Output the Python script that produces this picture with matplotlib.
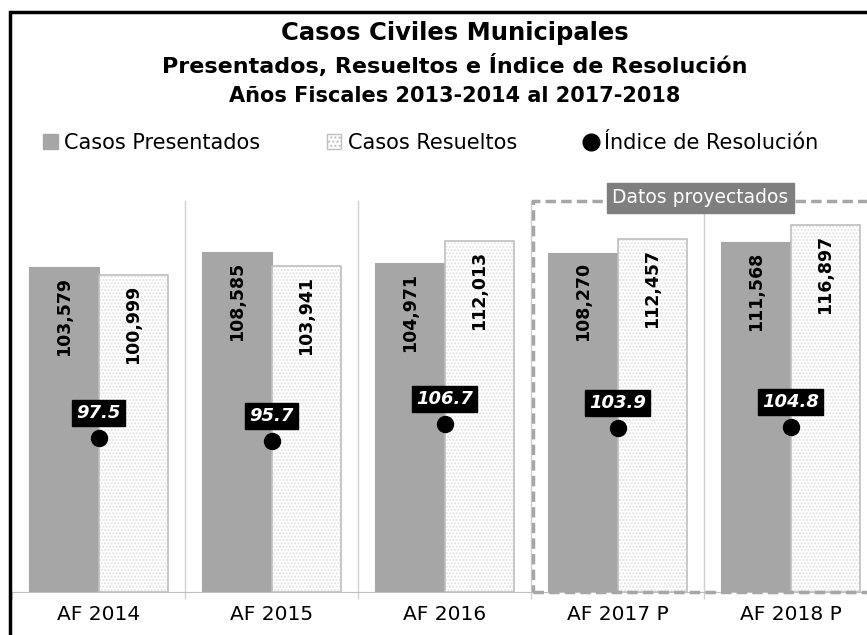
import numpy as np
import matplotlib
matplotlib.use('Agg')
import matplotlib.pyplot as plt
from matplotlib.patches import Patch, Rectangle
from matplotlib.lines import Line2D

plt.rcParams['font.family'] = ['DejaVu Sans']

categories = ['AF 2014', 'AF 2015', 'AF 2016', 'AF 2017 P', 'AF 2018 P']
presentados = [103579, 108585, 104971, 108270, 111568]
resueltos = [100999, 103941, 112013, 112457, 116897]
indice = [97.5, 95.7, 106.7, 103.9, 104.8]

GREY = '#a6a6a6'
W, H = 867, 635

fig = plt.figure(figsize=(W / 100, H / 100), dpi=100)
# plot area in pixels: x 12..877, y 201..592
ax = fig.add_axes([12 / W, 1 - 592 / H, 865 / W, 391 / H])
ax2 = ax.twinx()

x = np.arange(len(categories))
bw = 0.4

ax.bar(x - bw / 2, presentados, bw, color=GREY, edgecolor=GREY, linewidth=0.8, zorder=2)
ax.bar(x + bw / 2, resueltos, bw, color='white', edgecolor='#e3e3e3', hatch='.....',
       linewidth=0, zorder=2)
ax.bar(x + bw / 2, resueltos, bw, color='none', edgecolor='#bfbfbf', linewidth=1.2, zorder=3)

for xi, v in zip(x - bw / 2, presentados):
    ax.annotate(f'{v:,}', (xi, v), xytext=(0, -7), textcoords='offset points',
                rotation=90, ha='center', va='top', fontsize=12.5, fontweight='bold', zorder=5)
for xi, v in zip(x + bw / 2, resueltos):
    ax.annotate(f'{v:,}', (xi, v), xytext=(0, -7), textcoords='offset points',
                rotation=90, ha='center', va='top', fontsize=12.5, fontweight='bold', zorder=5)

ax.set_xlim(-0.5, len(categories) - 0.5)
ax.set_ylim(0, 124700)
ax2.set_ylim(0, 248)

ax2.plot(x, indice, 'o', color='black', markersize=11.5, linestyle='none', zorder=6)
for xi, v in zip(x, indice):
    ax2.annotate(f'{v:.1f}', (xi, v), xytext=(0, 18), textcoords='offset points',
                 ha='center', va='center', fontsize=13, fontweight='bold', style='italic',
                 color='white', zorder=7,
                 bbox=dict(boxstyle='square,pad=0.22', fc='black', ec='black'))

# category separators
for b in np.arange(0.5, len(categories) - 0.5, 1):
    ax.axvline(b, color='#d0d0d0', linewidth=1, zorder=1)
ax.set_xticks(np.arange(-0.5, len(categories), 1), minor=True)
ax.tick_params(axis='x', which='minor', length=5, color='#d0d0d0', width=1)
ax.tick_params(axis='x', which='major', length=0, pad=9, labelsize=14.5)
ax.set_xticks(x)
ax.set_xticklabels(categories)

for a in (ax, ax2):
    a.set_yticks([])
    for s in ('top', 'right', 'left'):
        a.spines[s].set_visible(False)
    a.patch.set_visible(False)
ax.spines['bottom'].set_color('#bfbfbf')
ax2.spines['bottom'].set_visible(False)

# projected data box
proj = Rectangle((2.51, 0), 2.2, 124700, fill=False, edgecolor=GREY, linewidth=2.5,
                 linestyle=(0, (3, 1.5)), clip_on=False, zorder=4)
ax.add_patch(proj)
ax.text(3.48, 125700, 'Datos proyectados', ha='center', va='center', fontsize=13.5,
        color='white', zorder=8,
        bbox=dict(boxstyle='square,pad=0.3', fc='#7f7f7f', ec='#7f7f7f'))

# titles
fig.text(455 / W, 1 - 33 / H, 'Casos Civiles Municipales', ha='center', va='center',
         fontsize=17.5, fontweight='bold')
fig.text(455 / W, 1 - 66 / H, 'Presentados, Resueltos e Índice de Resolución', ha='center',
         va='center', fontsize=16, fontweight='bold')
fig.text(455 / W, 1 - 96 / H, 'Años Fiscales 2013-2014 al 2017-2018', ha='center',
         va='center', fontsize=15, fontweight='bold')

handles = [
    Patch(facecolor=GREY, edgecolor=GREY),
    Patch(facecolor='white', edgecolor='#bfbfbf', hatch='....'),
    Line2D([], [], marker='o', color='black', linestyle='none', markersize=12),
]
labels = ['Casos Presentados', 'Casos Resueltos', 'Índice de Resolución']
fig.legend(handles, labels, loc='center', bbox_to_anchor=(431 / W, 1 - 143 / H), ncol=3,
           frameon=False, fontsize=15, handlelength=0.7, handleheight=0.7,
           handletextpad=0.3, columnspacing=3.2)

# outer frame
fig.add_artist(Rectangle((10 / W, -0.1), 1.2, 1 - 12 / H + 0.1, fill=False,
                         edgecolor='black', linewidth=2.5, transform=fig.transFigure))

fig.savefig('out.png', dpi=100)
